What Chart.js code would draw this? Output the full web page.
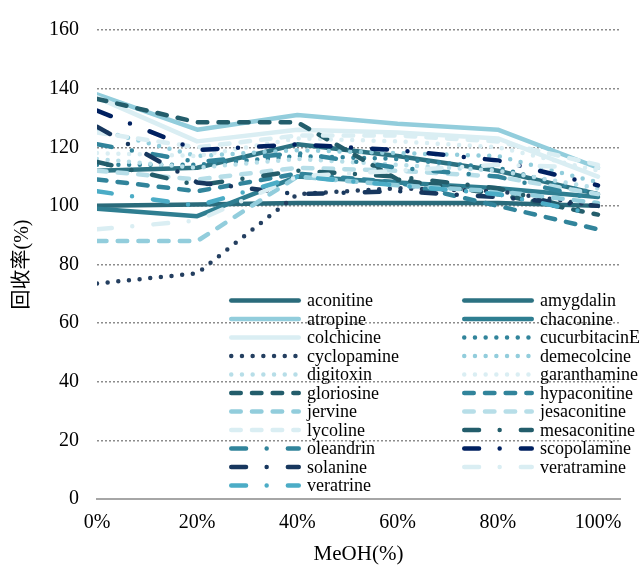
<!DOCTYPE html>
<html>
<head>
<meta charset="utf-8">
<script src="https://cdn.jsdelivr.net/npm/chart.js@4.4.1/dist/chart.umd.min.js"></script>
<style>
  html, body { margin: 0; padding: 0; background: #fff; }
</style>
</head>
<body>
<canvas id="c" width="643" height="569"></canvas>
<script>
// 横轴：MeOH 比例 (%)
const meohPercent = [0, 20, 40, 60, 80, 100];
// 纵轴刻度
const yTicks = [0, 20, 40, 60, 80, 100, 120, 140, 160];

// 各化合物回收率 (%)
const aconitine     = [100, 100.5, 101, 101, 101, 100];
const amygdalin     = [112, 113, 121, 117, 112, 104];
const atropine      = [138, 126, 131, 128, 126, 113];
const chaconine     = [99, 96.5, 110, 108, 106, 103];
const colchicine    = [137, 122, 126, 125, 123, 110];
const cucurbitacinE = [114, 114, 117, 116, 113, 104];
const cyclopamine   = [73.5, 77, 104, 106, 105, 100];
const demecolcine   = [126, 117, 119, 118, 117, 108];
const digitoxin     = [116, 113, 116, 114, 112, 106];
const garanthamine  = [118, 117, 123, 122, 120, 112];
const gloriosine    = [136.5, 128.5, 128.5, 109, 104, 97];
const hypaconitine  = [109, 105, 111, 108, 100, 92];
const jervine       = [88, 88, 110, 107, 105, 101];
const jesaconitine  = [112, 109, 113, 112, 110, 104];
const lycoline      = [125, 120, 124, 124, 122, 114];
const mesaconitine  = [115, 107, 112, 110, 106, 97];
const oleandrin     = [121, 115, 118, 113, 110, 102];
const scopolamine   = [132.5, 119, 121, 119, 115.5, 107];
const solanine      = [127, 108, 104, 105, 103, 100];
const veratramine   = [92, 95, 110, 112, 114, 113];
const veratrine     = [105, 100, 110, 107, 104, 97];

const series = [
    ['aconitine', aconitine], ['amygdalin', amygdalin], ['atropine', atropine],
    ['chaconine', chaconine], ['colchicine', colchicine], ['cucurbitacinE', cucurbitacinE],
    ['cyclopamine', cyclopamine], ['demecolcine', demecolcine], ['digitoxin', digitoxin],
    ['garanthamine', garanthamine], ['gloriosine', gloriosine], ['hypaconitine', hypaconitine],
    ['jervine', jervine], ['jesaconitine', jesaconitine], ['lycoline', lycoline],
    ['mesaconitine', mesaconitine], ['oleandrin', oleandrin], ['scopolamine', scopolamine],
    ['solanine', solanine], ['veratramine', veratramine], ['veratrine', veratrine]
];

// 线型
const LW = 4.5;
const DASH = {
    solid: [],
    dot: [0, 10.7],
    dash: [9.5, 11.2],
    dashDot: [14.8, 20.6, 0, 21.2]
};
// 颜色与线型（与数据分开）
const styles = [
    ['#2a6b7b', 'solid'], ['#2c7282', 'solid'], ['#92cddc', 'solid'],
    ['#2f7e91', 'solid'], ['#daeef3', 'solid'], ['#31849b', 'dot'],
    ['#243f60', 'dot'], ['#92cddc', 'dot'], ['#b7dee8', 'dot'],
    ['#daeef3', 'dot'], ['#235d6b', 'dash'], ['#31849b', 'dash'],
    ['#92cddc', 'dash'], ['#b7dee8', 'dash'], ['#daeef3', 'dash'],
    ['#235d6b', 'dashDot'], ['#31849b', 'dashDot'], ['#002060', 'dashDot'],
    ['#17375e', 'dashDot'], ['#daeef3', 'dashDot'], ['#4bacc6', 'dashDot']
];

const SERIF = "'Liberation Serif', 'Times New Roman', 'Noto Sans CJK SC', serif";

const datasets = series.map(([name, values], i) => ({
    label: name,
    data: values.map((v, k) => ({ x: meohPercent[k], y: v })),
    borderColor: styles[i][0],
    backgroundColor: styles[i][0],
    borderWidth: LW,
    borderDash: DASH[styles[i][1]],
    borderCapStyle: 'round',
    borderJoinStyle: 'round',
    pointRadius: 0,
    fill: false,
    tension: 0,
    order: series.length - i
}));

// 图内两列图例
const insideLegend = {
    id: 'insideLegend',
    afterDraw(chart) {
        const ctx = chart.ctx;
        const cols = [229, 462];
        const top = 300.5, step = 18.5, sample = 72;
        ctx.save();
        ctx.font = '18px ' + SERIF;
        ctx.textBaseline = 'middle';
        ctx.fillStyle = '#000';
        chart.data.datasets.forEach((ds, i) => {
            const x = cols[i % 2];
            const y = top + Math.floor(i / 2) * step;
            ctx.save();
            ctx.strokeStyle = ds.borderColor;
            ctx.lineWidth = LW;
            ctx.lineCap = 'round';
            ctx.setLineDash(ds.borderDash);
            ctx.beginPath();
            ctx.moveTo(x + LW / 2, y);
            ctx.lineTo(x + sample - LW / 2, y);
            ctx.stroke();
            ctx.restore();
            ctx.fillText(ds.label, x + 78, y + 1);
        });
        ctx.restore();
    }
};

new Chart(document.getElementById('c'), {
    type: 'line',
    data: { datasets: datasets },
    plugins: [insideLegend],
    options: {
        responsive: false,
        animation: false,
        devicePixelRatio: 1,
        layout: { padding: { top: 23, right: 23, left: 0, bottom: 0 } },
        plugins: { legend: { display: false }, tooltip: { enabled: false } },
        scales: {
            x: {
                type: 'linear',
                min: 0,
                max: 104.4,
                afterFit(scale) { scale.height = 70; },
                ticks: {
                    stepSize: 20,
                    includeBounds: false,
                    padding: 12,
                    color: '#000',
                    font: { family: SERIF, size: 20 },
                    callback: v => v + '%'
                },
                grid: { display: false, drawTicks: false },
                border: { display: true, color: '#a6a6a6', width: 2 },
                title: {
                    display: true,
                    text: 'MeOH(%)',
                    color: '#000',
                    font: { family: SERIF, size: 21 },
                    padding: { top: 0, bottom: 2 }
                }
            },
            y: {
                min: 0,
                max: 160,
                afterFit(scale) { scale.width = 97; },
                afterBuildTicks(scale) { scale.ticks = yTicks.map(v => ({ value: v })); },
                ticks: {
                    padding: 18,
                    color: '#000',
                    font: { family: SERIF, size: 20 }
                },
                grid: {
                    drawTicks: false,
                    color: c => (c.tick && c.tick.value === 0) ? 'rgba(0,0,0,0)' : '#8c8c8c',
                    lineWidth: 1.5
                },
                border: { display: false, dash: [2, 2] },
                title: {
                    display: true,
                    text: '回收率(%)',
                    color: '#000',
                    font: { family: SERIF, size: 20 },
                    padding: { top: 11, bottom: 0 }
                }
            }
        }
    }
});
</script>
</body>
</html>
